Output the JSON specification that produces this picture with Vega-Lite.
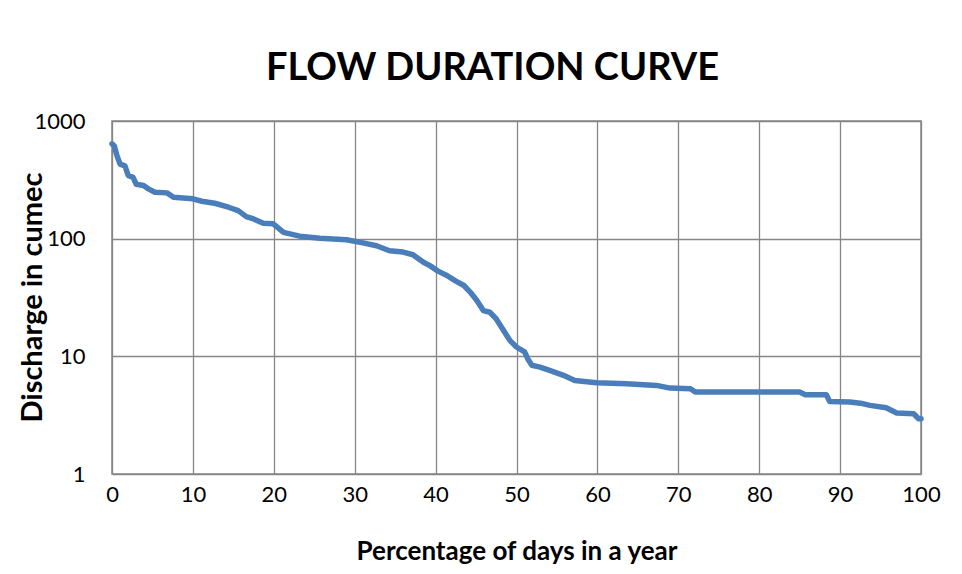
{
  "$schema": "https://vega.github.io/schema/vega-lite/v6.json",
  "autosize": "none",
  "width": 809,
  "height": 353,
  "padding": {"left": 112, "top": 121, "right": 41, "bottom": 100},
  "background": "white",
  "config": {
    "font": "Lato",
    "view": {"stroke": "#868686", "strokeWidth": 1.5}
  },
  "title": {
    "text": "FLOW DURATION CURVE",
    "font": "Lato",
    "fontSize": 38,
    "fontWeight": "bold",
    "color": "black",
    "anchor": "middle",
    "offset": 22,
    "dx": -24
  },
  "data": {
    "values": [
      {"pct": 0, "q": 640}, {"pct": 0.3, "q": 610}, {"pct": 0.6, "q": 510}, {"pct": 1.0, "q": 430},
      {"pct": 1.6, "q": 415}, {"pct": 2.0, "q": 345}, {"pct": 2.6, "q": 332}, {"pct": 3.0, "q": 290},
      {"pct": 3.9, "q": 283}, {"pct": 4.5, "q": 265}, {"pct": 5.3, "q": 248}, {"pct": 6.8, "q": 245},
      {"pct": 7.6, "q": 225}, {"pct": 10.0, "q": 218}, {"pct": 11.1, "q": 208}, {"pct": 12.7, "q": 200},
      {"pct": 14.4, "q": 185}, {"pct": 15.6, "q": 173}, {"pct": 16.6, "q": 154}, {"pct": 17.5, "q": 147},
      {"pct": 18.7, "q": 135}, {"pct": 19.9, "q": 134}, {"pct": 21.2, "q": 113}, {"pct": 23.2, "q": 105},
      {"pct": 25.7, "q": 101}, {"pct": 29.0, "q": 98}, {"pct": 31.0, "q": 92}, {"pct": 32.7, "q": 87},
      {"pct": 34.3, "q": 79}, {"pct": 36.0, "q": 77}, {"pct": 37.2, "q": 73}, {"pct": 38.5, "q": 63},
      {"pct": 39.3, "q": 59}, {"pct": 40.3, "q": 53}, {"pct": 41.4, "q": 48.6}, {"pct": 42.4, "q": 44},
      {"pct": 43.5, "q": 40}, {"pct": 44.3, "q": 35}, {"pct": 45.1, "q": 29.8}, {"pct": 45.9, "q": 24.5},
      {"pct": 46.7, "q": 23.7}, {"pct": 47.5, "q": 20.8}, {"pct": 48.4, "q": 16.6}, {"pct": 49.2, "q": 13.6},
      {"pct": 50.0, "q": 12.0}, {"pct": 51.0, "q": 10.9}, {"pct": 51.4, "q": 9.5}, {"pct": 51.9, "q": 8.4},
      {"pct": 52.9, "q": 8.1}, {"pct": 54.1, "q": 7.6}, {"pct": 55.8, "q": 6.9}, {"pct": 57.2, "q": 6.24},
      {"pct": 59.9, "q": 5.97}, {"pct": 63.6, "q": 5.85}, {"pct": 67.3, "q": 5.66}, {"pct": 69.0, "q": 5.37},
      {"pct": 71.5, "q": 5.31}, {"pct": 72.1, "q": 4.97}, {"pct": 85.0, "q": 4.97}, {"pct": 85.7, "q": 4.72},
      {"pct": 88.3, "q": 4.72}, {"pct": 88.7, "q": 4.14}, {"pct": 91.2, "q": 4.09}, {"pct": 92.5, "q": 4.0},
      {"pct": 93.7, "q": 3.83}, {"pct": 95.7, "q": 3.66}, {"pct": 97.0, "q": 3.3}, {"pct": 99.1, "q": 3.25},
      {"pct": 99.7, "q": 2.95}, {"pct": 100, "q": 2.95}
    ]
  },
  "mark": {"type": "line", "color": "#4A7EBB", "strokeWidth": 5.5, "strokeJoin": "round", "strokeCap": "round", "clip": false},
  "encoding": {
    "x": {
      "field": "pct",
      "type": "quantitative",
      "scale": {"domain": [0, 100], "nice": false, "zero": false},
      "axis": {
        "values": [0, 10, 20, 30, 40, 50, 60, 70, 80, 90, 100],
        "title": "Percentage of days in a year",
        "titleFontSize": 26,
        "titleFontWeight": "bold",
        "titleColor": "black",
        "titlePadding": 33,
        "labelFontSize": 22,
        "labelColor": "black",
        "labelPadding": 10,
        "ticks": false,
        "domain": false,
        "grid": true,
        "gridColor": "#868686",
        "gridWidth": 1.3,
        "gridOpacity": 1,
        "labelFlush": false
      }
    },
    "y": {
      "field": "q",
      "type": "quantitative",
      "scale": {"type": "log", "domain": [1, 1000], "nice": false},
      "axis": {
        "values": [1, 10, 100, 1000],
        "format": "d",
        "title": "Discharge in cumec",
        "titleFontSize": 29,
        "titleFontWeight": "bold",
        "titleColor": "black",
        "titleX": -80,
        "titleY": 176,
        "titleAngle": -90,
        "titleAlign": "center",
        "titleBaseline": "middle",
        "labelFontSize": 22,
        "labelColor": "black",
        "labelPadding": 27,
        "ticks": false,
        "domain": false,
        "grid": true,
        "gridColor": "#868686",
        "gridWidth": 1.3,
        "gridOpacity": 1,
        "labelFlush": false
      }
    }
  }
}
